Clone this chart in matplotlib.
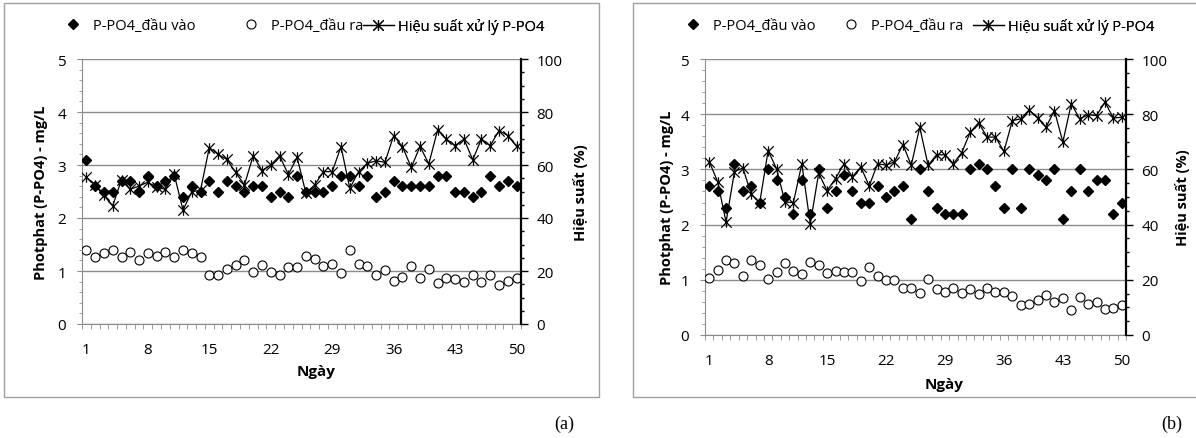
import matplotlib.pyplot as plt
import numpy as np
from matplotlib.path import Path
from matplotlib.lines import Line2D
from matplotlib.patches import Rectangle
from matplotlib.ticker import MultipleLocator

plt.rcParams['font.family'] = ['Open Sans', 'DejaVu Sans']

# ---- data ----
days = np.arange(1, 51)
tick_days = [1, 8, 15, 22, 29, 36, 43, 50]

labels = ['P-PO4_đầu vào', 'P-PO4_đầu ra', 'Hiệu suất xử lý P-PO4']

# (a)
vao_a = [3.1, 2.6, 2.5, 2.5, 2.7, 2.7, 2.5, 2.8, 2.6, 2.7,
         2.8, 2.4, 2.6, 2.5, 2.7, 2.5, 2.7, 2.6, 2.5, 2.6,
         2.6, 2.4, 2.5, 2.4, 2.8, 2.5, 2.5, 2.5, 2.6, 2.8,
         2.8, 2.6, 2.8, 2.4, 2.5, 2.7, 2.6, 2.6, 2.6, 2.6,
         2.8, 2.8, 2.5, 2.5, 2.4, 2.5, 2.8, 2.6, 2.7, 2.6]
ra_a = [1.40, 1.26, 1.34, 1.40, 1.26, 1.36, 1.21, 1.34, 1.29, 1.35,
        1.27, 1.40, 1.34, 1.27, 0.93, 0.93, 1.04, 1.11, 1.21, 0.99,
        1.11, 0.99, 0.93, 1.07, 1.07, 1.29, 1.23, 1.09, 1.13, 0.96,
        1.40, 1.13, 1.10, 0.93, 1.01, 0.81, 0.89, 1.09, 0.87, 1.04,
        0.77, 0.87, 0.85, 0.79, 0.93, 0.79, 0.93, 0.74, 0.81, 0.87]
hs_a = [55.5, 52.3, 48.5, 44.6, 54.5, 50.8, 52.1, 53.5, 51.6, 50.8,
        56.5, 43.0, 49.9, 50.5, 66.6, 64.0, 62.1, 57.2, 52.5, 63.5,
        57.9, 60.0, 63.5, 56.4, 62.9, 49.4, 52.5, 57.5, 57.5, 66.9,
        51.2, 57.5, 60.6, 61.6, 61.0, 71.1, 66.9, 59.1, 67.0, 60.4,
        73.2, 69.8, 67.3, 69.8, 62.0, 69.8, 67.3, 73.0, 71.1, 67.0]

# (b)
vao_b = [2.7, 2.6, 2.3, 3.1, 2.6, 2.7, 2.4, 3.0, 2.8, 2.5,
         2.2, 2.8, 2.2, 3.0, 2.3, 2.6, 2.9, 2.6, 2.4, 2.4,
         2.7, 2.5, 2.6, 2.7, 2.1, 3.0, 2.6, 2.3, 2.2, 2.2,
         2.2, 3.0, 3.1, 3.0, 2.7, 2.3, 3.0, 2.3, 3.0, 2.9,
         2.8, 3.0, 2.1, 2.6, 3.0, 2.6, 2.8, 2.8, 2.2, 2.4]
ra_b = [1.03, 1.18, 1.36, 1.30, 1.06, 1.35, 1.27, 1.02, 1.14, 1.31,
        1.16, 1.10, 1.33, 1.26, 1.12, 1.16, 1.15, 1.15, 0.97, 1.24,
        1.06, 1.00, 1.00, 0.85, 0.85, 0.76, 1.02, 0.84, 0.78, 0.85,
        0.76, 0.84, 0.74, 0.86, 0.78, 0.78, 0.70, 0.54, 0.57, 0.64,
        0.72, 0.60, 0.67, 0.45, 0.68, 0.56, 0.60, 0.47, 0.49, 0.54]
hs_b = [62.8, 55.6, 40.9, 59.2, 60.5, 51.0, 48.0, 66.8, 60.2, 48.2,
        48.0, 62.0, 40.3, 58.6, 52.3, 56.7, 62.0, 57.3, 60.9, 54.0,
        62.1, 61.5, 62.7, 69.0, 61.5, 75.3, 61.5, 65.3, 65.3, 62.1,
        66.1, 73.5, 76.9, 71.7, 71.7, 66.5, 77.7, 78.3, 81.6, 78.6,
        75.3, 81.3, 69.9, 83.8, 78.3, 79.8, 79.5, 84.4, 78.6, 78.9]

# ---- layout (pixels) ----
W, H = 1196, 439
fig = plt.figure(figsize=(W / 100, H / 100), dpi=100)

# star marker like Excel's: X with a vertical stroke
star = Path([(0, -1), (0, 1), (-1, -1), (1, 1), (-1, 1), (1, -1)],
            [Path.MOVETO, Path.LINETO] * 3)

grid_c = '#8c8c8c'


def px_axes(x0, y0, x1, y1):
    return fig.add_axes([x0 / W, 1 - y1 / H, (x1 - x0) / W, (y1 - y0) / H])


def frame(x0, y0, x1, y1):
    fig.patches.append(Rectangle((x0 / W, 1 - y1 / H), (x1 - x0) / W, (y1 - y0) / H,
                                 transform=fig.transFigure, fill=False,
                                 edgecolor='#a0a0a0', lw=1))


def legend_item(ax, handle, text, x, y):
    leg = ax.legend([handle], [text], loc='center left',
                    bbox_to_anchor=(x / W, 1 - y / H), bbox_transform=fig.transFigure,
                    frameon=False, borderpad=0, borderaxespad=0,
                    handlelength=2.1, handletextpad=0.3, fontsize=10.5)
    ax.add_artist(leg)


def panel(box, vao, ra, hs, ylab_x, y2lab_x, xlab_xy, leg_x, tag, tag_xy):
    ax = px_axes(*box)
    ax2 = ax.twinx()

    ax.plot(days, vao, ls='none', marker='D', ms=4.8, color='black', zorder=3)
    ax.plot(days, ra, ls='none', marker='o', ms=6.5, mfc='white', mec='black',
            mew=0.8, zorder=3)
    ax2.plot(days, hs, color='black', lw=0.9, marker=star, ms=7.5, mew=0.9,
             mfc='none', mec='black')

    ax.set_xlim(0.5, 50.5)
    ax.set_ylim(0, 5)
    ax2.set_ylim(0, 100)

    ax.yaxis.set_major_locator(MultipleLocator(1))
    ax.yaxis.set_minor_locator(MultipleLocator(0.2))
    ax2.yaxis.set_major_locator(MultipleLocator(20))
    ax2.yaxis.set_minor_locator(MultipleLocator(5))
    ax.set_xticks(tick_days)
    ax.set_xticks(np.arange(0.5, 51, 1), minor=True)

    ax.grid(axis='y', which='major', color=grid_c, lw=1)
    for s in ['top', 'right']:
        ax.spines[s].set_visible(False)
    for s in ['left', 'bottom']:
        ax.spines[s].set_color(grid_c)
    for s in ['top', 'left', 'bottom']:
        ax2.spines[s].set_visible(False)
    ax2.spines['right'].set_linewidth(1.6)

    ax.tick_params(axis='y', which='major', length=3.5, color=grid_c, pad=8, labelsize=11)
    ax.tick_params(axis='y', which='minor', length=2.5, color=grid_c)
    ax.tick_params(axis='x', which='major', length=0, pad=13, labelsize=11)
    ax.tick_params(axis='x', which='minor', length=3.5, color=grid_c)
    ax2.tick_params(axis='y', which='major', length=5, width=1, color='black', pad=6, labelsize=11)
    ax2.tick_params(axis='y', which='minor', length=2.5, width=1, color='black')

    ax.set_ylabel('Photphat (P-PO4) - mg/L', fontweight='bold', fontsize=10.5, va='center')
    ax.yaxis.set_label_coords(ylab_x, 0.5)
    ax2.set_ylabel('Hiệu suất (%)', fontweight='bold', fontsize=10.5, va='center', rotation=90)
    ax2.yaxis.set_label_coords(y2lab_x, 0.5)
    ax.set_xlabel('Ngày', fontweight='bold', fontsize=11, va='center')
    ax.xaxis.set_label_coords(*xlab_xy)

    h1 = Line2D([], [], ls='none', marker='D', ms=4.8, color='black')
    h2 = Line2D([], [], ls='none', marker='o', ms=6.5, mfc='white', mec='black', mew=0.8)
    h3 = Line2D([], [], color='black', lw=0.9, marker=star, ms=7.5, mew=0.9, mfc='none')
    for h, t, x in zip([h1, h2, h3], labels, leg_x):
        legend_item(ax2, h, t, x, 27)

    fig.text(tag_xy[0] / W, 1 - tag_xy[1] / H, tag, family='Liberation Serif',
             fontsize=13, ha='center', va='center')
    return ax, ax2


frame(4, 4, 599, 398)
frame(633, 4, 1200, 398)

panel((82, 60, 521, 325), vao_a, ra_a, hs_a,
      ylab_x=(41 - 82) / 439, y2lab_x=(580 - 82) / 439,
      xlab_xy=((316 - 82) / 439, (325 - 372) / 265),
      leg_x=[58, 236, 363], tag='(a)', tag_xy=(564, 424))
panel((705, 60, 1126, 336), vao_b, ra_b, hs_b,
      ylab_x=(667 - 705) / 421, y2lab_x=(1183 - 705) / 421,
      xlab_xy=((944 - 705) / 421, (336 - 385) / 276),
      leg_x=[678, 836, 973], tag='(b)', tag_xy=(1172, 424))

plt.savefig('out.png', dpi=100)
